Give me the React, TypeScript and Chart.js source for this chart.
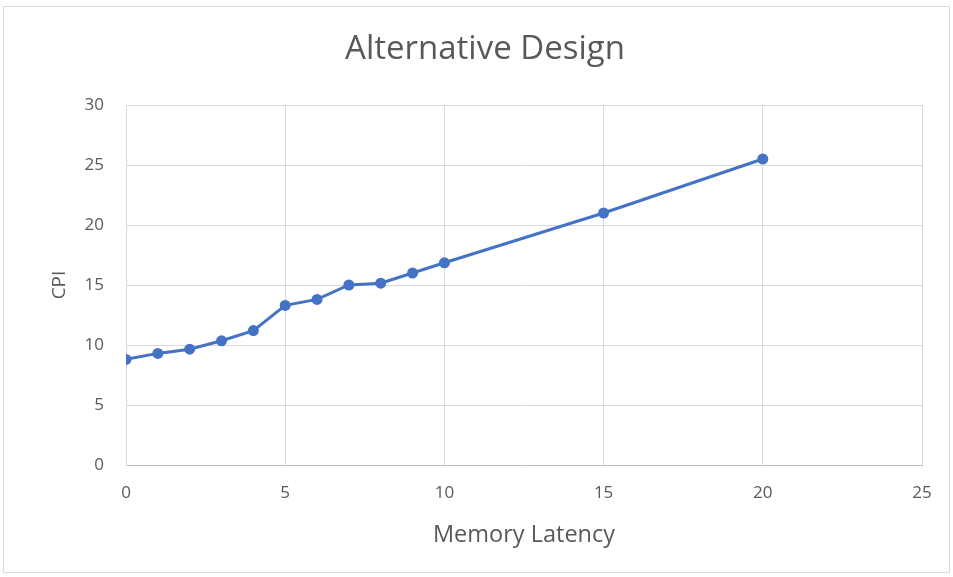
import React, { useEffect, useRef } from "react";
import { Chart, registerables } from "chart.js";

Chart.register(...registerables);

const TITLE = "Alternative Design";
const X_TITLE = "Memory Latency";
const Y_TITLE = "CPI";
const latency = [0, 1, 2, 3, 4, 5, 6, 7, 8, 9, 10, 15, 20];
const cpi = [8.8, 9.3, 9.65, 10.35, 11.2, 13.3, 13.8, 15.0, 15.15, 16.0, 16.85, 21.0, 25.5];

const FONT = "'Open Sans', 'Liberation Sans', sans-serif";
const TEXT = "#595959";
const GRID = "#d9d9d9";
const BLUE = "#4472C4";

export default function App() {
  const ref = useRef<HTMLCanvasElement | null>(null);

  useEffect(() => {
    if (!ref.current) return;
    const chart = new Chart(ref.current, {
      type: "scatter",
      data: {
        datasets: [
          {
            label: Y_TITLE,
            data: latency.map((x, i) => ({ x, y: cpi[i] })),
            showLine: true,
            borderColor: BLUE,
            backgroundColor: BLUE,
            borderWidth: 3,
            pointRadius: 5.5,
            pointBorderWidth: 0,
            pointBackgroundColor: BLUE,
          },
        ],
      },
      options: {
        animation: false,
        responsive: false,
        layout: { padding: { left: 48, right: 31, top: 0, bottom: 0 } },
        plugins: {
          legend: { display: false },
          tooltip: { enabled: false },
          title: {
            display: true,
            text: TITLE,
            color: TEXT,
            font: { family: FONT, size: 33, weight: "normal" },
            padding: { top: 30, bottom: 35.4 },
          },
        },
        scales: {
          x: {
            type: "linear",
            min: 0,
            max: 25,
            ticks: { stepSize: 5, color: TEXT, font: { family: FONT, size: 17 }, padding: 18 },
            grid: { color: GRID, drawTicks: false, lineWidth: 1 },
            border: { color: "#bfbfbf", width: 1 },
            title: {
              display: true,
              text: X_TITLE,
              color: TEXT,
              font: { family: FONT, size: 23.5 },
              padding: { top: 10, bottom: 28 },
            },
            afterFit: (s: any) => {
              s.height = 112;
            },
          },
          y: {
            type: "linear",
            min: 0,
            max: 30,
            ticks: { stepSize: 5, color: TEXT, font: { family: FONT, size: 17 }, padding: 22 },
            grid: { color: GRID, drawTicks: false, lineWidth: 1 },
            border: { color: GRID, width: 1 },
            title: {
              display: true,
              text: Y_TITLE,
              color: TEXT,
              font: { family: FONT, size: 19 },
              padding: { top: 0, bottom: 0 },
            },
            afterFit: (s: any) => {
              s.width = 78;
            },
          },
        },
      },
    });
    return () => chart.destroy();
  }, []);

  return (
    <div style={{ position: "fixed", left: 0, top: 0, width: 953, height: 577, background: "#fff" }}>
      <canvas ref={ref} width={953} height={577} style={{ position: "absolute", left: 0, top: 0 }} />
      <div
        style={{
          position: "absolute",
          left: 3,
          top: 6,
          width: 945,
          height: 565,
          border: "1px solid #d9d9d9",
          pointerEvents: "none",
        }}
      />
    </div>
  );
}
